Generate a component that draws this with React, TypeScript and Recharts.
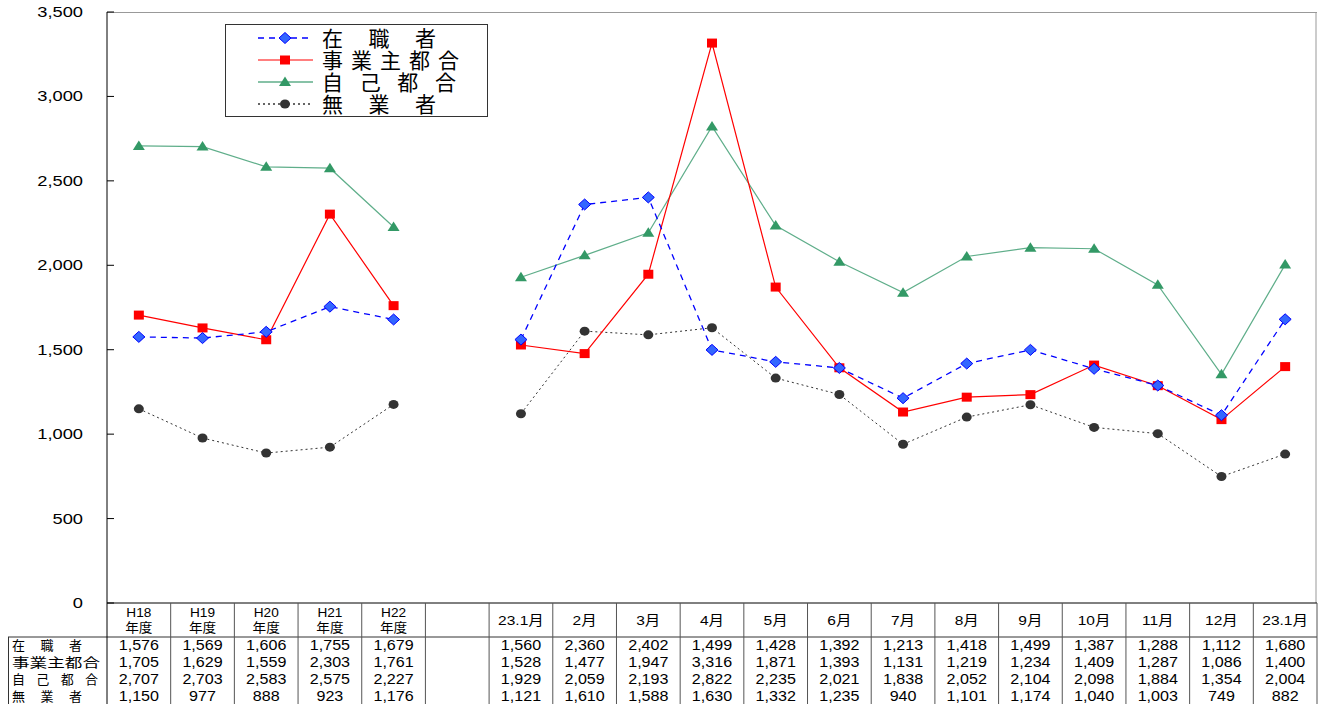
import React from 'react';
import { LineChart, Line, XAxis, YAxis, CartesianGrid } from 'recharts';

// column headers (two lines for the fiscal-year columns, blank gap column)
const headTop = ['H18', 'H19', 'H20', 'H21', 'H22', '', '23.1月', '2月', '3月', '4月', '5月', '6月', '7月', '8月', '9月', '10月', '11月', '12月', '23.1月'];
const headBottom = ['年度', '年度', '年度', '年度', '年度', '', '', '', '', '', '', '', '', '', '', '', '', '', ''];

const zaishoku = [1576, 1569, 1606, 1755, 1679, null, 1560, 2360, 2402, 1499, 1428, 1392, 1213, 1418, 1499, 1387, 1288, 1112, 1680];
const jigyo = [1705, 1629, 1559, 2303, 1761, null, 1528, 1477, 1947, 3316, 1871, 1393, 1131, 1219, 1234, 1409, 1287, 1086, 1400];
const jiko = [2707, 2703, 2583, 2575, 2227, null, 1929, 2059, 2193, 2822, 2235, 2021, 1838, 2052, 2104, 2098, 1884, 1354, 2004];
const mugyo = [1150, 977, 888, 923, 1176, null, 1121, 1610, 1588, 1630, 1332, 1235, 940, 1101, 1174, 1040, 1003, 749, 882];

const yTicks = [0, 500, 1000, 1500, 2000, 2500, 3000, 3500];

const rowLabels = ['在職者', '事業主都合', '自己都合', '無業者'];
const rowSeries = [zaishoku, jigyo, jiko, mugyo];

const data = headTop.map((_, i) => ({
  key: 'c' + i,
  zaishoku: zaishoku[i],
  jigyo: jigyo[i],
  jiko: jiko[i],
  mugyo: mugyo[i],
}));

const W = 1327;
const H = 704;
const PLOT_L = 107;
const PLOT_R = 1317;
const PLOT_T = 12;
const PLOT_B = 603;
const COL = (PLOT_R - PLOT_L) / headTop.length;

const NUM_FONT = '"Liberation Sans", Arial, sans-serif';
const JP_FONT = '"Liberation Sans", "Noto Sans CJK JP", sans-serif';

const fmt = (v: number) => v.toLocaleString('en-US');

const StretchText = ({ x, y, children, size = 14, sx = 1.15, anchor = 'middle' }: any) => (
  <text
    transform={`translate(${x},${y}) scale(${sx},1)`}
    x={0}
    y={0}
    textAnchor={anchor}
    dominantBaseline="central"
    fontSize={size}
    fontFamily={JP_FONT}
    fill="#000"
  >
    {children}
  </text>
);

const rowY = [645, 662, 679, 696];
const labelLen = [70, 88, 86, 70];
const labelAdj = ['spacing', 'spacingAndGlyphs', 'spacing', 'spacing'];

const TableTick = (props: any) => {
  const { x, payload } = props;
  const i = Number(String(payload.value).slice(1));
  const left = x - COL / 2;
  const right = x + COL / 2;
  return (
    <g>
      {i === 0 && (
        <g>
          <line x1={8} y1={637} x2={PLOT_R} y2={637} stroke="#333" />
          <line x1={8.5} y1={637} x2={8.5} y2={H} stroke="#333" />
          <line x1={left} y1={PLOT_B} x2={left} y2={H} stroke="#000" />
          {rowLabels.map((lab, r) => (
            <text
              key={lab}
              x={12}
              y={rowY[r]}
              dominantBaseline="central"
              fontSize={13}
              fontFamily={JP_FONT}
              textLength={labelLen[r]}
              lengthAdjust={labelAdj[r]}
              fill="#000"
            >
              {lab}
            </text>
          ))}
        </g>
      )}
      <line x1={right} y1={PLOT_B} x2={right} y2={H} stroke="#555" />
      {headBottom[i] ? (
        <g>
          <StretchText x={x} y={613} size={13} sx={1.05}>{headTop[i]}</StretchText>
          <StretchText x={x} y={628} size={13} sx={1.05}>{headBottom[i]}</StretchText>
        </g>
      ) : (
        <StretchText x={x} y={620} size={13.5} sx={1.15}>{headTop[i]}</StretchText>
      )}
      {rowSeries.map((s, r) =>
        s[i] == null ? null : (
          <StretchText key={r} x={x} y={rowY[r]} size={14} sx={1.15}>{fmt(s[i] as number)}</StretchText>
        ),
      )}
    </g>
  );
};

const YTick = (props: any) => {
  const { y, payload } = props;
  return (
    <g>
      <line x1={PLOT_L} y1={y} x2={PLOT_L + 7} y2={y} stroke="#000" />
      <text
        transform={`translate(${PLOT_L - 24},${y}) scale(1.22,1)`}
        textAnchor="end"
        dominantBaseline="central"
        fontSize={15}
        fontFamily={NUM_FONT}
        fill="#000"
      >
        {fmt(payload.value)}
      </text>
    </g>
  );
};

const diamond = (p: any) => {
  const { cx, cy, index } = p;
  if (cy == null || cx == null) return <g key={index} />;
  return (
    <polygon
      key={index}
      points={`${cx},${cy - 5.5} ${cx + 6},${cy} ${cx},${cy + 5.5} ${cx - 6},${cy}`}
      fill="#3366ff"
      stroke="#0000ff"
      strokeWidth={1}
    />
  );
};

const square = (p: any) => {
  const { cx, cy, index } = p;
  if (cy == null || cx == null) return <g key={index} />;
  return <rect key={index} x={cx - 5} y={cy - 4.5} width={10} height={9} fill="#ff0000" />;
};

const triangle = (p: any) => {
  const { cx, cy, index } = p;
  if (cy == null || cx == null) return <g key={index} />;
  return (
    <polygon
      key={index}
      points={`${cx},${cy - 5.5} ${cx + 6},${cy + 4} ${cx - 6},${cy + 4}`}
      fill="#339966"
    />
  );
};

const circle = (p: any) => {
  const { cx, cy, index } = p;
  if (cy == null || cx == null) return <g key={index} />;
  return <ellipse key={index} cx={cx} cy={cy} rx={5} ry={4.5} fill="#333333" />;
};

const legendItems = [
  { name: '在職者', color: '#0000ff', dash: '6 5', marker: 'diamond', len: 114 },
  { name: '事業主都合', color: '#ff5555', dash: undefined, marker: 'square', len: 137 },
  { name: '自己都合', color: '#5fae8a', dash: undefined, marker: 'triangle', len: 134 },
  { name: '無業者', color: '#333333', dash: '2 3', marker: 'circle', len: 114 },
];

const LegendBox = () => (
  <div
    style={{
      position: 'absolute',
      left: 225,
      top: 24,
      width: 261,
      height: 91,
      border: '1px solid #333',
      background: '#fff',
    }}
  >
    <svg width={261} height={91}>
      {legendItems.map((it, r) => {
        const y = 13 + r * 22;
        const cx = 59;
        const mk =
          it.marker === 'diamond' ? diamond({ cx, cy: y, index: 0 }) :
          it.marker === 'square' ? square({ cx, cy: y, index: 0 }) :
          it.marker === 'triangle' ? triangle({ cx, cy: y, index: 0 }) :
          circle({ cx, cy: y, index: 0 });
        return (
          <g key={it.name}>
            <line x1={32} y1={y} x2={87} y2={y} stroke={it.color} strokeWidth={1.3} strokeDasharray={it.dash} />
            {mk}
            <text
              x={96}
              y={y}
              dominantBaseline="central"
              fontSize={21}
              fontFamily={JP_FONT}
              textLength={it.len}
              lengthAdjust="spacing"
              fill="#000"
            >
              {it.name}
            </text>
          </g>
        );
      })}
    </svg>
  </div>
);

export default function App() {
  return (
    <div style={{ position: 'absolute', left: 0, top: 0, width: W, height: H, background: '#fff', overflow: 'hidden' }}>
      <LineChart
        width={W}
        height={H}
        data={data}
        margin={{ top: PLOT_T, right: W - PLOT_R, bottom: 0, left: 0 }}
      >
        <CartesianGrid horizontalPoints={[PLOT_T + 0.5]} verticalPoints={[PLOT_R - 1]} stroke="#999" />
        <XAxis
          dataKey="key"
          interval={0}
          height={H - PLOT_B}
          tickLine={false}
          tickSize={0}
          tickMargin={0}
          axisLine={{ stroke: '#000' }}
          padding={{ left: COL / 2, right: COL / 2 }}
          tick={<TableTick />}
        />
        <YAxis
          width={PLOT_L}
          domain={[0, 3500]}
          ticks={yTicks}
          interval={0}
          tickLine={false}
          tickSize={0}
          tickMargin={0}
          axisLine={{ stroke: '#000' }}
          tick={<YTick />}
        />
        <Line
          dataKey="mugyo"
          stroke="#333333"
          strokeWidth={1}
          strokeDasharray="2 3"
          dot={circle}
          isAnimationActive={false}
        />
        <Line
          dataKey="jiko"
          stroke="#5fae8a"
          strokeWidth={1.2}
          dot={triangle}
          isAnimationActive={false}
        />
        <Line
          dataKey="jigyo"
          stroke="#ff0000"
          strokeWidth={1.2}
          dot={square}
          isAnimationActive={false}
        />
        <Line
          dataKey="zaishoku"
          stroke="#0000ff"
          strokeWidth={1.3}
          strokeDasharray="6 5"
          dot={diamond}
          isAnimationActive={false}
        />
      </LineChart>
      <LegendBox />
    </div>
  );
}
